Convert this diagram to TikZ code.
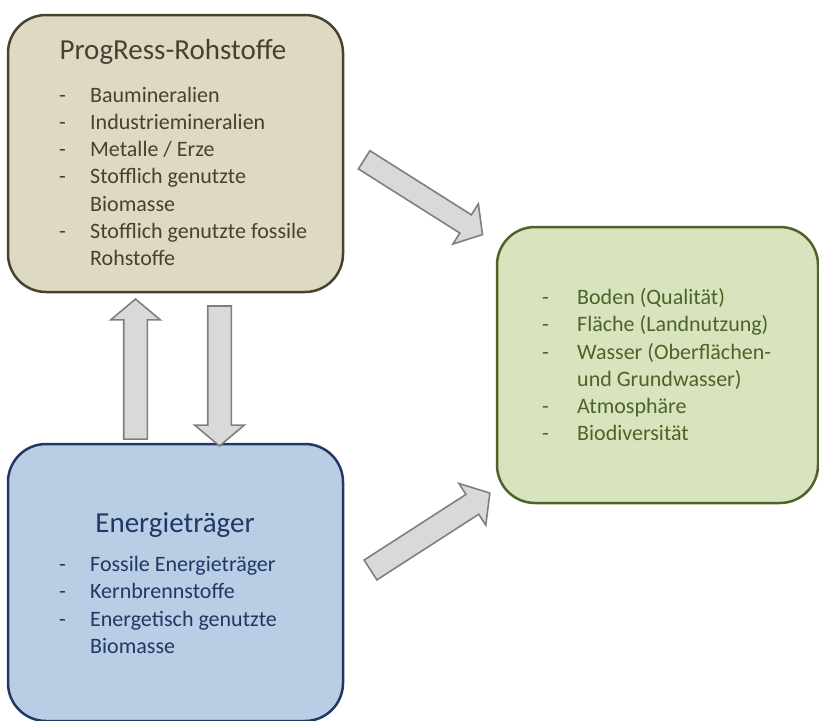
\documentclass[tikz,border=0pt]{standalone}
\usepackage{fontspec}
\setmainfont{Carlito}
\usetikzlibrary{shapes.arrows,positioning}
\definecolor{rohfill}{RGB}{221,217,195}
\definecolor{rohline}{RGB}{73,68,41}
\definecolor{rohtext}{RGB}{70,66,50}
\definecolor{enfill}{RGB}{185,205,229}
\definecolor{enline}{RGB}{31,56,100}
\definecolor{umfill}{RGB}{215,228,189}
\definecolor{umline}{RGB}{79,98,40}
\definecolor{pfeilfill}{RGB}{217,217,217}
\definecolor{pfeilline}{RGB}{127,127,127}
\newcommand{\punkte}[2][31pt]{\fontsize{22}{27.2}\selectfont
  \begin{tabular}{@{}p{#1}@{}l@{}}#2\end{tabular}}
\tikzset{
  kasten/.style={rectangle,rounded corners=38pt,line width=2.5pt,minimum width=335pt,minimum height=277pt},
  titel/.style={font=\fontsize{29}{33}\selectfont,inner sep=0pt},
  liste/.style={anchor=north west,inner sep=0pt,align=left},
  blockpfeil/.style={single arrow,single arrow head extend=13pt,single arrow tip angle=100,
    inner sep=11pt,outer sep=0pt,fill=pfeilfill,draw=pfeilline,line width=1.6pt},
}
\begin{document}
\begin{tikzpicture}[x=1pt,y=-1pt]
\useasboundingbox (0,0) rectangle (819,720);

 \node at (175.5,153.5) [kasten,fill=rohfill,draw=rohline] (roh) {};
 \node at (175.5,582.5) [kasten,fill=enfill,draw=enline] (en) {};
 \node at (657.5,365) [kasten,fill=umfill,draw=umline,minimum width=321pt,minimum height=276pt] (um) {};

 \node at (173,52) [titel,text=rohtext] (rohtitel) {ProgRess-Rohstoffe};
 \node at (59,83) [liste,text=rohtext] (rohliste) {\punkte{
  - & Baumineralien\\
  - & Industriemineralien\\
  - & Metalle / Erze\\
  - & Stofflich genutzte\\
    & Biomasse\\
  - & Stofflich genutzte fossile\\
    & Rohstoffe}};

 \node at (175,525) [titel,text=enline] (entitel) {Energieträger};
 \node at (59,552.5) [liste,text=enline] (enliste) {\punkte{
  - & Fossile Energieträger\\
  - & Kernbrennstoffe\\
  - & Energetisch genutzte\\
    & Biomasse}};

 \node at (542,285.5) [liste,text=umline] (umliste) {\punkte[35pt]{
  - & Boden (Qualität)\\
  - & Fläche (Landnutzung)\\
  - & Wasser (Oberflächen-\\
    & und Grundwasser)\\
  - & Atmosphäre\\
  - & Biodiversität}};

 \node at (135.5,374) [blockpfeil,rotate=90,minimum height=140pt] (hoch) {};
 \node at (219.5,371) [blockpfeil,rotate=-90,minimum height=140pt] (runter) {};
 \node at (419.5,194.8) [blockpfeil,rotate=-32.3,minimum height=140pt,inner sep=10pt] (oben) {};
 \node at (426,534.2) [blockpfeil,rotate=32.8,minimum height=142pt] (unten) {};
\end{tikzpicture}
\end{document}
